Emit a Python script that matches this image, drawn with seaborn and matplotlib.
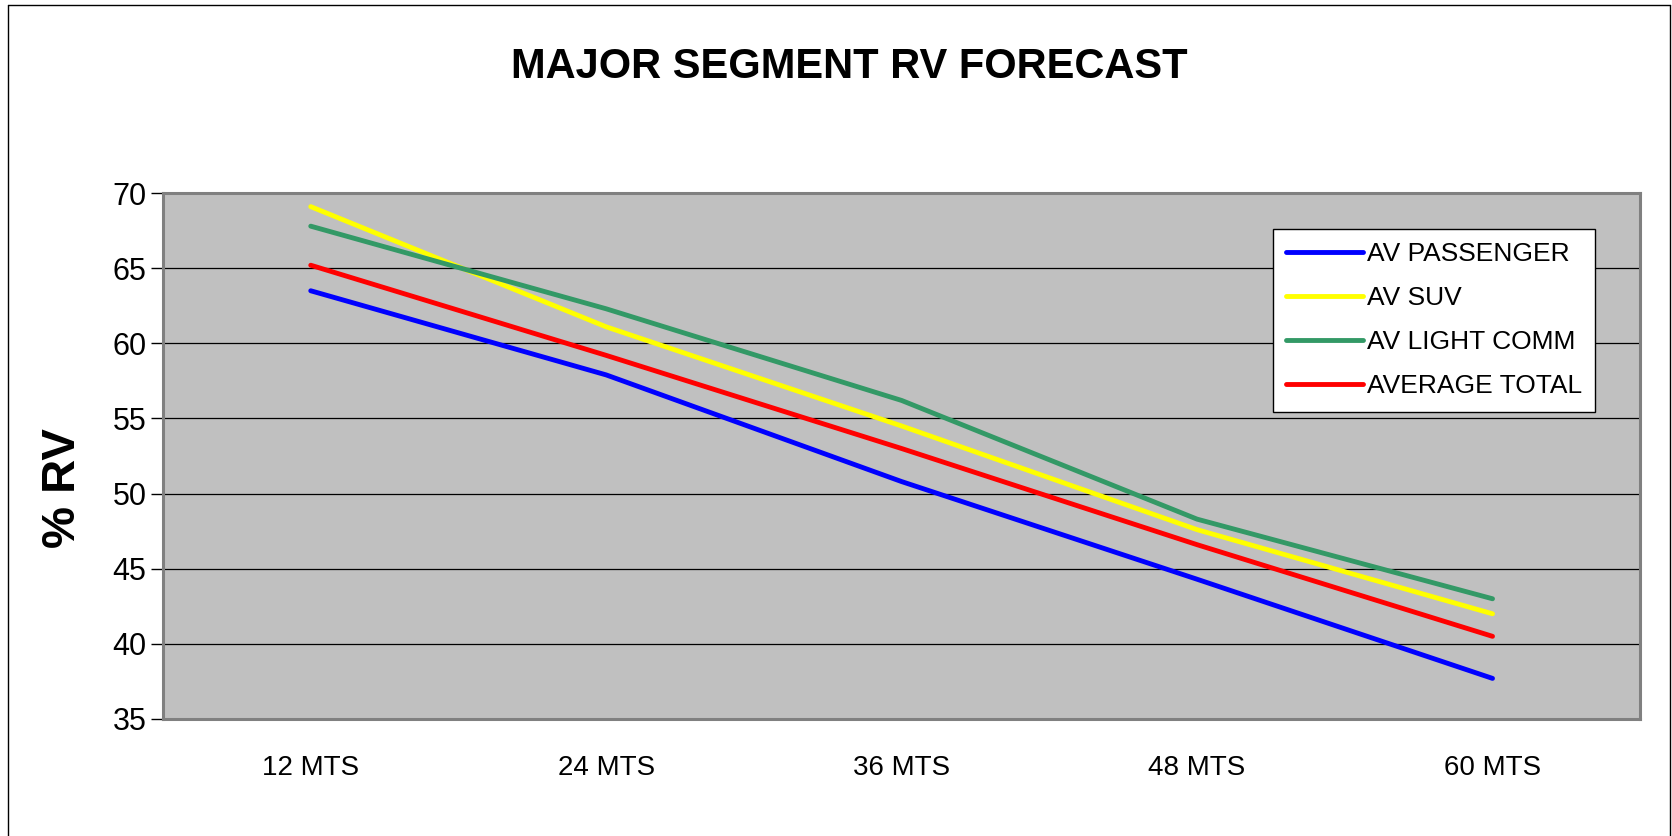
import matplotlib
matplotlib.use("Agg")
import matplotlib.pyplot as plt
from matplotlib.lines import Line2D
from matplotlib.ticker import FixedLocator
import seaborn as sns
import pandas as pd

# Residual value forecast (% RV) by lease term
terms = ["12 MTS", "24 MTS", "36 MTS", "48 MTS", "60 MTS"]
av_passenger = [63.5, 57.9, 50.8, 44.3, 37.7]
av_suv = [69.1, 61.1, 54.5, 47.6, 42.0]
av_light_comm = [67.8, 62.3, 56.2, 48.3, 43.0]
average_total = [65.2, 59.2, 53.0, 46.6, 40.5]

series_names = ["AV PASSENGER", "AV SUV", "AV LIGHT COMM", "AVERAGE TOTAL"]
series_values = [av_passenger, av_suv, av_light_comm, average_total]
series_colors = ["#0000FF", "#FFFF00", "#339966", "#FF0000"]

y_ticks = [35, 40, 45, 50, 55, 60, 65, 70]

df = pd.DataFrame(
    [(t, name, v) for name, vals in zip(series_names, series_values)
     for t, v in zip(terms, vals)],
    columns=["term", "segment", "rv"],
)

sns.set_style("white")
plt.rcParams["font.family"] = ["Liberation Sans", "DejaVu Sans"]
plt.rcParams["text.color"] = "black"
plt.rcParams["axes.labelcolor"] = "black"
plt.rcParams["xtick.color"] = "black"
plt.rcParams["ytick.color"] = "black"

fig = plt.figure(figsize=(16.72, 8.36), dpi=100)
ax = fig.add_axes([0.0975, 0.14, 0.8835, 0.629])
ax.set_facecolor("#C0C0C0")

sns.lineplot(
    data=df, x="term", y="rv", hue="segment", hue_order=series_names,
    palette=dict(zip(series_names, series_colors)), linewidth=3.5,
    sort=False, ax=ax, legend=False,
)
for ln in ax.get_lines():
    ln.set_solid_capstyle("round")
    ln.set_solid_joinstyle("round")

ax.set_xlim(-0.5, len(terms) - 0.5)
ax.set_ylim(35, 70)
ax.set_yticks(y_ticks)
ax.set_yticklabels([str(v) for v in y_ticks])
ax.yaxis.grid(True, color="black", linewidth=0.9)
ax.set_axisbelow(True)

ax.set_xticks(range(len(terms)))
ax.set_xticklabels(terms)
ax.xaxis.set_minor_locator(FixedLocator([i - 0.5 for i in range(len(terms) + 1)]))
ax.tick_params(axis="x", which="major", length=0, pad=26, labelsize=20, labelcolor="black")
ax.tick_params(axis="x", which="minor", length=10, width=1, color="black", direction="out")
ax.tick_params(axis="y", which="major", length=9, width=1, color="black",
               direction="out", pad=3, labelsize=22, left=True, labelcolor="black")

for side in ["top", "right", "left", "bottom"]:
    ax.spines[side].set_visible(True)
    ax.spines[side].set_color("#808080")
    ax.spines[side].set_linewidth(2.2)

ax.set_xlabel("")
ax.set_ylabel("% RV", fontsize=34, fontweight="bold", color="black")
ax.yaxis.set_label_coords(-0.053, 0.44)

fig.text(0.508, 0.92, "MAJOR SEGMENT RV FORECAST", ha="center", va="center",
         fontsize=30, fontweight="bold", color="black")

handles = [Line2D([0], [0], color=c, linewidth=3.5, solid_capstyle="round")
           for c in series_colors]
leg = ax.legend(
    handles, series_names, loc="upper left",
    bbox_to_anchor=(1273 / 1672, 1 - 229 / 836), bbox_transform=fig.transFigure,
    fontsize=19, frameon=True, fancybox=False, handlelength=2.9,
    handletextpad=0.15, labelspacing=0.76, borderpad=0.5, borderaxespad=0,
)
for t in leg.get_texts():
    t.set_color("black")
leg.get_frame().set_edgecolor("black")
leg.get_frame().set_linewidth(1.0)
leg.get_frame().set_facecolor("white")
leg.get_frame().set_alpha(1)

# thin outer chart border (left, top, right)
border_kw = dict(color="black", linewidth=1.0, transform=fig.transFigure)
fig.add_artist(Line2D([8 / 1672, 8 / 1672], [0, 1 - 5 / 836], **border_kw))
fig.add_artist(Line2D([8 / 1672, 1670 / 1672], [1 - 5 / 836, 1 - 5 / 836], **border_kw))
fig.add_artist(Line2D([1670 / 1672, 1670 / 1672], [0, 1 - 5 / 836], **border_kw))

fig.savefig("out.png", dpi=100, facecolor="white")
